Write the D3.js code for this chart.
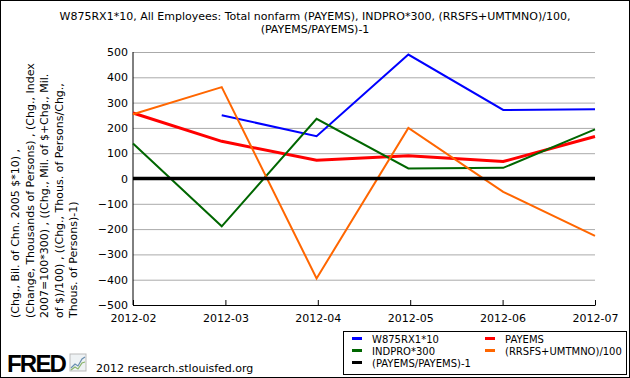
<!DOCTYPE html>
<html>
<head>
<meta charset="utf-8">
<script src="https://cdn.jsdelivr.net/npm/d3@7"></script>
<style>
  body { margin: 0; background: #fff; }
  svg { display: block; font-family: "DejaVu Sans", Verdana, sans-serif; }
</style>
</head>
<body>
<div id="chart-area"></div>
<script>
// months on the x axis
var months = ["2012-02", "2012-03", "2012-04", "2012-05", "2012-06", "2012-07"];
var yTicks = [-500, -400, -300, -200, -100, 0, 100, 200, 300, 400, 500];

// series values
var w875rx1 = [null, 250, 167, 490, 271, 274];
var payems = [259, 147, 72, 90, 67, 166];
var indpro = [138, -189, 236, 40, 42, 194];
var retail = [254, 361, -395, 200, -53, -227];
var ratio = [0, 0, 0, 0, 0, 0];

var seriesNames = ["W875RX1*10", "PAYEMS", "INDPRO*300", "(RRSFS+UMTMNO)/100", "(PAYEMS/PAYEMS)-1"];

var titleLines = [
    "W875RX1*10, All Employees: Total nonfarm (PAYEMS), INDPRO*300, (RRSFS+UMTMNO)/100,",
    "(PAYEMS/PAYEMS)-1"
];
var yLabelLines = [
    "(Chg., Bil. of Chn. 2005 $*10) ,",
    "(Change, Thousands of Persons) , (Chg., Index",
    "2007=100*300) , ((Chg., Mil. of $+Chg., Mil.",
    "of $)/100) , ((Chg., Thous. of Persons/Chg.,",
    "Thous. of Persons)-1)"
];

var W = 630, H = 378;
var margin = { top: 52, right: 35, bottom: 73, left: 133 },
    width = W - margin.left - margin.right,
    height = H - margin.top - margin.bottom;

var svg = d3.select("#chart-area")
    .append("svg")
    .attr("width", W)
    .attr("height", H);

svg.append("rect")
    .attr("x", 0.5).attr("y", 0.5)
    .attr("width", W - 1).attr("height", H - 1)
    .attr("fill", "#fff")
    .attr("stroke", "#000");

// title
svg.append("g").selectAll("text")
    .data(titleLines)
    .enter()
    .append("text")
    .attr("x", W / 2)
    .attr("y", (d, i) => 20 + i * 13)
    .attr("text-anchor", "middle")
    .attr("font-size", "11px")
    .text(d => d);

var g = svg.append("g")
    .attr("transform", `translate(${margin.left},${margin.top})`);

var parse = d3.timeParse("%Y-%m");
var x = d3.scaleTime().domain([parse(months[0]), parse(months[months.length - 1])]).range([0, width]);
var xTick = d3.scalePoint().domain(months).range([0, width]);
var y = d3.scaleLinear().domain([-500, 500]).range([height, 0]);

// grid
g.append("g")
    .attr("class", "grid")
    .call(d3.axisLeft(y).tickValues(yTicks).tickSize(-width).tickFormat(""))
    .call(a => a.select(".domain").remove())
    .call(a => a.selectAll("line").attr("stroke", "#aaa"));

// y labels
g.append("g")
    .attr("class", "y-axis")
    .call(d3.axisLeft(y).tickValues(yTicks).tickSize(0).tickPadding(5))
    .call(a => a.select(".domain").remove())
    .call(a => a.selectAll("text")
        .attr("font-family", "DejaVu Sans, Verdana, sans-serif")
        .attr("font-size", "11px")
        .attr("fill", "#000"));

// x axis with ticks pointing up
g.append("g")
    .attr("class", "x-axis")
    .attr("transform", `translate(0,${height})`)
    .call(d3.axisBottom(xTick).tickSizeInner(-5).tickSizeOuter(0).tickPadding(9))
    .call(a => a.select(".domain").remove())
    .call(a => a.selectAll("line").attr("stroke", "#000"))
    .call(a => a.selectAll("text")
        .attr("font-family", "DejaVu Sans, Verdana, sans-serif")
        .attr("font-size", "11px")
        .attr("fill", "#000"));

g.append("line")
    .attr("x1", 0).attr("x2", 0)
    .attr("y1", 0).attr("y2", height)
    .attr("stroke", "#000");
g.append("line")
    .attr("x1", 0).attr("x2", width + 0.5)
    .attr("y1", height + 0.5).attr("y2", height + 0.5)
    .attr("stroke", "#000");

// y axis title
svg.append("g")
    .attr("transform", "translate(0,318) rotate(-90)")
    .selectAll("text")
    .data(yLabelLines)
    .enter()
    .append("text")
    .attr("x", 0)
    .attr("y", (d, i) => 19 + i * 14.5)
    .attr("font-size", "11px")
    .text(d => d);

var series = [
    { name: seriesNames[0], values: w875rx1, color: "#0000ff", w: 2 },
    { name: seriesNames[1], values: payems, color: "#ff0000", w: 3 },
    { name: seriesNames[2], values: indpro, color: "#006600", w: 2 },
    { name: seriesNames[3], values: retail, color: "#ff6600", w: 2 },
    { name: seriesNames[4], values: ratio, color: "#000000", w: 3.5 }
];

var line = d3.line()
    .defined(d => d.v !== null)
    .x(d => x(parse(d.m)))
    .y(d => y(d.v));

g.selectAll(".series")
    .data(series)
    .enter()
    .append("path")
    .attr("class", "series")
    .attr("fill", "none")
    .attr("stroke", d => d.color)
    .attr("stroke-width", d => d.w)
    .attr("d", d => line(months.map((m, i) => ({ m: m, v: d.values[i] }))));

// legend
var legend = svg.append("g")
    .attr("transform", "translate(343,331)");

legend.append("rect")
    .attr("x", 0.5).attr("y", 0.5)
    .attr("width", 283).attr("height", 43)
    .attr("fill", "#fff")
    .attr("stroke", "#000");

var legendPos = [[0, 0], [1, 0], [0, 1], [1, 1], [0, 2]];

var legendRow = legend.selectAll(".legend-row")
    .data(series)
    .enter()
    .append("g")
    .attr("class", "legend-row")
    .attr("transform", (d, i) => `translate(${9 + legendPos[i][0] * 133}, ${7.5 + legendPos[i][1] * 12})`);

legendRow.append("line")
    .attr("x1", 0).attr("x2", 10)
    .attr("y1", 0).attr("y2", 0)
    .attr("stroke", d => d.color)
    .attr("stroke-width", 3);

legendRow.append("text")
    .attr("x", 20)
    .attr("y", 4)
    .attr("font-size", "10px")
    .text(d => d.name);

// FRED logo and source
svg.append("text")
    .attr("x", 7)
    .attr("y", 372)
    .attr("font-family", "Liberation Sans, Arial, sans-serif")
    .attr("font-weight", "bold")
    .attr("font-size", "24px")
    .attr("letter-spacing", "-1.8px")
    .text("FRED");

var icon = svg.append("g").attr("transform", "translate(70,354)");
icon.append("rect")
    .attr("width", 16).attr("height", 17)
    .attr("fill", "#eef2f4")
    .attr("stroke", "#bbb");
icon.append("path")
    .attr("d", "M1,14 L5,10 L8,12 L12,5 L15,3")
    .attr("fill", "none").attr("stroke", "#6a8fb0").attr("stroke-width", 1.2);
icon.append("path")
    .attr("d", "M1,16 L5,13 L8,15 L12,9 L15,8")
    .attr("fill", "none").attr("stroke", "#8ab46a").attr("stroke-width", 1.2);

svg.append("text")
    .attr("x", 96)
    .attr("y", 372)
    .attr("font-size", "11px")
    .text("2012 research.stlouisfed.org");
</script>
</body>
</html>
